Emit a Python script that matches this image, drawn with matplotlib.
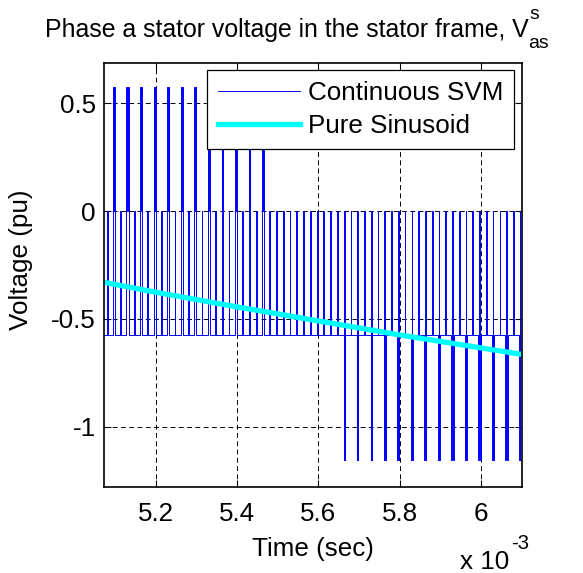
import numpy as np
import matplotlib
matplotlib.use('Agg')
import matplotlib.pyplot as plt

plt.rcParams['font.family'] = ['Liberation Sans', 'DejaVu Sans']
plt.rcParams['axes.unicode_minus'] = False

# phase voltage levels seen on the trace (pu)
levels = [0.577, 0.0, -0.577, -1.155]

# switching period and centre of the first (partly shown) period, sec
Ts = 33.33e-6
t_first = 5.0633e-3

# dwell per switching period (us): +0.577 pulse, -0.577 level, -1.155 pulse
t_pos = [4.5, 4.2, 4.0, 3.8, 3.6, 3.3, 3.0, 2.8, 2.5, 2.2, 2.0, 1.7, 1.4,
         0, 0, 0, 0, 0, 0, 0, 0, 0, 0, 0, 0, 0, 0, 0, 0, 0, 0, 0, 0]
t_neg = [25.2, 25.5, 25.8, 26.0, 26.3, 26.6, 26.8, 27.0, 27.3, 27.5, 27.8,
         28.0, 28.2, 28.5, 28.7, 28.9, 28.7, 28.5, 28.2, 28.0, 27.8, 27.5,
         27.3, 27.1, 26.8, 26.6, 26.3, 26.0, 25.8, 25.5, 25.3, 25.0, 24.7]
t_neg2 = [0, 0, 0, 0, 0, 0, 0, 0, 0, 0, 0, 0, 0, 0, 0, 0, 0, 0,
          1.2, 1.4, 1.7, 2.0, 2.3, 2.6, 3.0, 3.4, 3.8, 4.3, 4.8, 5.4, 6.0,
          6.8, 7.5]

# pure sinusoid
sin_t = [5.07e-3, 5.2e-3, 5.4e-3, 5.6e-3, 5.8e-3, 6.0e-3, 6.1e-3]
sin_v = [-0.33, -0.377, -0.445, -0.51, -0.575, -0.635, -0.665]

xticks = [5.2e-3, 5.4e-3, 5.6e-3, 5.8e-3, 6.0e-3]
xticklabels = ['5.2', '5.4', '5.6', '5.8', '6']
yticks = [-1, -0.5, 0, 0.5]
yticklabels = ['-1', '-0.5', '0', '0.5']

# build the switched waveform, symmetric pattern per period
up, zero, lo, lo2 = levels
tt = []
vv = []
for k in range(len(t_neg)):
    p = t_pos[k] * 1e-6
    m = t_neg[k] * 1e-6
    q = t_neg2[k] * 1e-6
    z = Ts - p - m - q
    segs = [(z/4, zero), (m/2, lo), (p/2, up), (q/2, lo2), (z/2, zero),
            (q/2, lo2), (p/2, up), (m/2, lo), (z/4, zero)]
    t = t_first + k*Ts - Ts/2
    for d, v in segs:
        if d > 0:
            tt.append(t)
            vv.append(v)
            t += d
tt.append(t)
vv.append(vv[-1])

fs = 18.7
fs_t = 17.9
W, H = 583, 573
fig = plt.figure(figsize=(W/100., H/100.), dpi=100)
ax = fig.add_axes([104./W, 1-486.7/H, 418./W, 424./H])

ax.plot(tt, vv, color=(0, 0, 1), lw=0.7, drawstyle='steps-post',
        label='Continuous SVM')
ax.plot(sin_t, sin_v, color=(0, 1, 1), lw=3.8, label='Pure Sinusoid')

ax.set_xlim(5.072e-3, 6.101e-3)
ax.set_ylim(-1.279, 0.688)
ax.set_xticks(xticks)
ax.set_xticklabels(xticklabels)
ax.set_yticks(yticks)
ax.set_yticklabels(yticklabels)
ax.tick_params(axis='both', direction='in', length=5, width=0.8,
               top=True, right=True, labelsize=fs)
ax.tick_params(axis='x', pad=11)
ax.tick_params(axis='y', pad=6)
for s in ax.spines.values():
    s.set_linewidth(1.2)
ax.grid(True, color='k', lw=0.7, ls=(0, (5, 3.5)))

leg = ax.legend(loc='upper right', fontsize=fs, fancybox=False,
                edgecolor='k', framealpha=1, handlelength=3.15,
                handletextpad=0.3, borderpad=0.42, labelspacing=0.35,
                borderaxespad=0.3)
leg.get_frame().set_linewidth(0.9)

# labels placed like the MATLAB export
fig.text(21./W, 1-260./H, 'Voltage (pu)', rotation=90, ha='center',
         va='center', fontsize=fs)
fig.text(313./W, 1-556./H, 'Time (sec)', ha='center', va='baseline',
         fontsize=fs)
fig.text(460./W, 1-569./H, 'x 10', ha='left', va='baseline', fontsize=fs)
fig.text(511./W, 1-549./H, '-3', ha='left', va='baseline', fontsize=fs*0.78)

ttl = fig.text(45./W, 1-37./H, 'Phase a stator voltage in the stator frame, V',
               ha='left', va='baseline', fontsize=fs_t)
fig.canvas.draw()
bb = ttl.get_window_extent()
x_end = bb.x1 / W
fig.text(x_end + 1./W, 1-19./H, 's', ha='left', va='baseline', fontsize=fs_t*0.78)
fig.text(x_end - 1./W, 1-48./H, 'as', ha='left', va='baseline', fontsize=fs_t*0.78)

fig.savefig('out.png', dpi=100)
